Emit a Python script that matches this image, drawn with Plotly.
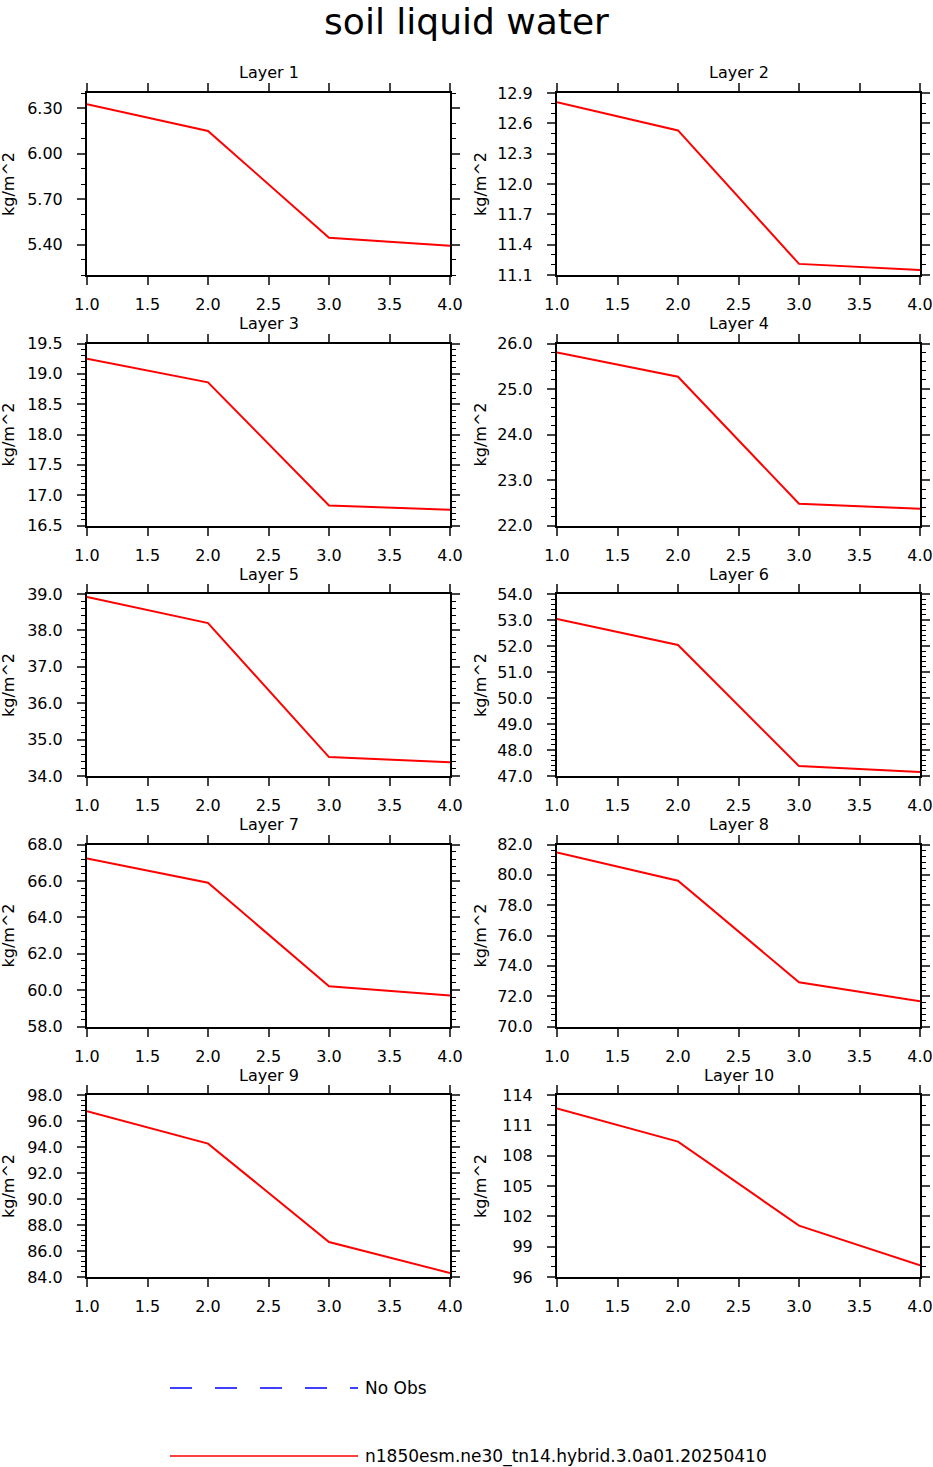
import plotly.graph_objects as go
from plotly.subplots import make_subplots

# x positions (same for every layer)
xvals = [1, 2, 3, 4]

layer_names = ["Layer 1", "Layer 2", "Layer 3", "Layer 4", "Layer 5",
               "Layer 6", "Layer 7", "Layer 8", "Layer 9", "Layer 10"]

# soil liquid water per layer (kg/m^2)
layer1 = [6.326, 6.15, 5.446, 5.393]
layer2 = [12.81, 12.53, 11.21, 11.15]
layer3 = [19.25, 18.86, 16.83, 16.76]
layer4 = [25.80, 25.27, 22.48, 22.37]
layer5 = [38.92, 38.20, 34.52, 34.38]
layer6 = [53.04, 52.04, 47.38, 47.15]
layer7 = [67.23, 65.90, 60.21, 59.71]
layer8 = [81.47, 79.61, 72.92, 71.66]
layer9 = [96.75, 94.26, 86.69, 84.31]
layer10 = [112.68, 109.39, 101.08, 97.16]
layers = [layer1, layer2, layer3, layer4, layer5,
          layer6, layer7, layer8, layer9, layer10]

# y axis ranges and ticks
y_ranges = [(5.2, 6.4), (11.1, 12.9), (16.5, 19.5), (22.0, 26.0), (34.0, 39.0),
            (47.0, 54.0), (58.0, 68.0), (70.0, 82.0), (84.0, 98.0), (96.0, 114.0)]
y_tick0 = [5.4, 11.1, 16.5, 22.0, 34.0, 47.0, 58.0, 70.0, 84.0, 96.0]
y_major = [0.3, 0.3, 0.5, 1.0, 1.0, 1.0, 2.0, 2.0, 2.0, 3.0]
y_minor = [0.1, 0.1, 0.1, 0.2, 0.2, 0.2, 0.4, 0.4, 0.4, 1.0]
y_fmt = [".2f", ".1f", ".1f", ".1f", ".1f", ".1f", ".1f", ".1f", ".1f", ".0f"]

model_name = "n1850esm.ne30_tn14.hybrid.3.0a01.20250410"
obs_name = "No Obs"

W, H = 933, 1467
FONT = "DejaVu Sans, Liberation Sans, Arial, sans-serif"

fig = make_subplots(rows=5, cols=2)

col_x = [(87, 450), (557, 920)]
for k, vals in enumerate(layers):
    r, c = k // 2, k % 2
    fig.add_trace(go.Scatter(x=xvals, y=vals, mode="lines", name=model_name,
                             line=dict(color="red", width=2), showlegend=False),
                  row=r + 1, col=c + 1)

    top = 93 + 250.5 * r
    bot = top + 182
    x0, x1 = col_x[c]
    ax = "" if k == 0 else str(k + 1)
    fig.layout["xaxis" + ax].update(
        domain=[x0 / W, x1 / W], range=[1, 4], tick0=1, dtick=0.5, tickformat=".1f",
        ticks="outside", ticklen=8, tickwidth=2, linewidth=2, linecolor="black",
        mirror="ticks", showgrid=False, zeroline=False, ticklabelstandoff=6,
        automargin=False,
        tickfont=dict(size=16, color="black", family=FONT))
    fig.layout["yaxis" + ax].update(
        domain=[1 - bot / H, 1 - top / H], range=list(y_ranges[k]),
        tick0=y_tick0[k], dtick=y_major[k], tickformat=y_fmt[k],
        ticks="outside", ticklen=8, tickwidth=2, linewidth=2, linecolor="black",
        mirror="ticks", showgrid=False, zeroline=False, ticklabelstandoff=11,
        automargin=False,
        minor=dict(dtick=y_minor[k], tick0=y_tick0[k], ticks="outside", ticklen=4,
                   tickwidth=1, tickcolor="black", showgrid=False),
        tickfont=dict(size=16, color="black", family=FONT))

    fig.add_annotation(text=layer_names[k], x=(x0 + x1) / 2 / W, y=1 - (top - 20) / H,
                       xref="paper", yref="paper", xanchor="center", yanchor="middle",
                       showarrow=False, font=dict(size=16, color="black", family=FONT))
    fig.add_annotation(text="kg/m^2", x=(8 if c == 0 else 480) / W, y=1 - (top + 91) / H,
                       xref="paper", yref="paper", xanchor="center", yanchor="middle",
                       showarrow=False, textangle=-90,
                       font=dict(size=16, color="black", family=FONT))

# legend drawn below the panels
legend_items = [(obs_name, "blue", "22px,23px", 1388), (model_name, "red", "solid", 1456)]
for label, color, dash, ypx in legend_items:
    fig.add_shape(type="line", xref="paper", yref="paper",
                  x0=170 / W, x1=358 / W, y0=1 - ypx / H, y1=1 - ypx / H,
                  line=dict(color=color, width=1.5, dash=dash))
    fig.add_annotation(text=label, x=363 / W, y=1 - ypx / H, xref="paper", yref="paper",
                       xanchor="left", yanchor="middle", showarrow=False,
                       font=dict(size=17, color="black", family=FONT))

fig.update_layout(
    width=W, height=H,
    margin=dict(l=0, r=0, t=0, b=0, pad=0),
    paper_bgcolor="white", plot_bgcolor="white",
    showlegend=False,
    title=dict(text="soil liquid water", x=0.5, xanchor="center", y=1 - 21 / H,
               yanchor="middle", automargin=False,
               font=dict(size=36, color="black", family=FONT)),
)

fig.write_html("out.html", config={"displayModeBar": False},
               post_script="document.body.style.margin='0';"
                           "document.body.style.overflow='hidden';")
